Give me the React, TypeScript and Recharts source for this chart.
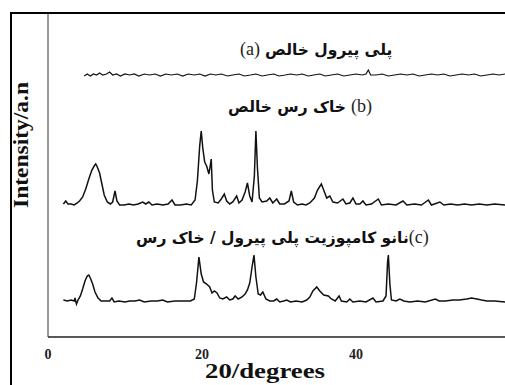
import { LineChart, Line, XAxis, YAxis, Label } from 'recharts'

// XRD patterns: [2θ in degrees, intensity above the pattern's own baseline]
const purePolypyrrole: [number, number][] = [
  [4.7, 0], [5.1, 2], [5.5, 0], [5.9, 2], [6.3, 1], [6.7, 3], [7.1, 1], [7.6, 2], [8.0, 4], [8.4, 1],
  [8.9, 2], [9.4, 0], [10.0, 2], [10.6, 1], [11.2, 2], [11.8, 0], [12.5, 2], [13.2, 1], [13.9, 2], [14.6, 0],
  [15.3, 2], [16.0, 1], [16.8, 2], [17.5, 0], [18.2, 2], [19.0, 1], [19.7, 2], [20.4, 0], [21.1, 2], [21.8, 1],
  [22.5, 2], [23.3, 0], [24.0, 1], [24.8, 2], [25.5, 0], [26.3, 1], [27.0, 2], [27.8, 0], [28.5, 1], [29.3, 2],
  [30.0, 0], [30.8, 1], [31.5, 2], [32.3, 1], [33.0, 2], [33.8, 0], [34.5, 1], [35.3, 2], [36.0, 0], [36.8, 1],
  [37.6, 2], [38.4, 0], [39.2, 1], [40.0, 2], [40.8, 1], [41.3, 2], [41.6, 6], [41.9, 1], [42.6, 1], [43.4, 2],
  [44.2, 0], [45.0, 1], [45.8, 2], [46.6, 1], [47.4, 2], [48.2, 0], [49.0, 1], [49.8, 2], [50.6, 1], [51.4, 2],
  [52.2, 0], [53.0, 1], [53.8, 2], [54.6, 1], [55.4, 2], [56.2, 0], [57.0, 1], [57.8, 2], [58.6, 1], [59.35, 2],
]

const pureClay: [number, number][] = [
  [2.0, 2], [2.3, 5], [2.6, 2], [3.0, 2], [3.4, 1], [3.8, 3], [4.1, 5], [4.5, 9], [4.9, 17], [5.3, 27],
  [5.7, 36], [6.0, 40], [6.2, 42], [6.4, 39], [6.7, 33], [7.0, 22], [7.3, 11], [7.7, 4], [8.1, 2], [8.4, 4],
  [8.7, 15], [8.95, 5], [9.3, 1], [9.9, 1], [10.5, 2], [11.1, 1], [11.7, 2], [12.3, 4], [12.7, 2], [13.1, 4],
  [13.5, 1], [14.2, 2], [14.9, 1], [15.6, 2], [16.1, 6], [16.5, 1], [17.2, 1], [18.0, 2], [18.6, 1], [19.1, 6],
  [19.4, 25], [19.7, 60], [19.9, 75], [20.1, 58], [20.35, 44], [20.6, 40], [20.9, 32], [21.1, 42], [21.2, 47], [21.35, 16],
  [21.6, 4], [22.1, 3], [22.5, 7], [22.9, 12], [23.2, 5], [23.6, 2], [24.0, 4], [24.5, 10], [24.8, 3], [25.2, 6],
  [25.6, 14], [25.9, 23], [26.2, 10], [26.5, 4], [26.8, 30], [27.0, 75], [27.2, 38], [27.45, 8], [27.8, 4], [28.4, 5],
  [28.8, 8], [29.2, 3], [29.7, 7], [30.1, 2], [30.7, 2], [31.3, 5], [31.6, 15], [31.9, 4], [32.4, 1], [33.0, 2],
  [33.5, 1], [34.0, 3], [34.6, 8], [35.0, 16], [35.5, 22], [35.9, 14], [36.2, 8], [36.6, 10], [37.0, 4], [37.6, 3],
  [38.3, 7], [38.7, 2], [39.2, 3], [39.6, 8], [40.0, 2], [40.5, 2], [40.9, 5], [41.3, 1], [42.0, 2], [42.9, 7],
  [43.3, 1], [44.2, 2], [45.2, 1], [46.1, 5], [46.6, 1], [47.6, 2], [48.5, 1], [49.4, 6], [49.8, 1], [50.9, 4],
  [51.4, 1], [52.3, 2], [53.2, 1], [54.1, 2], [55.0, 1], [56.0, 2], [57.0, 1], [58.0, 2], [59.35, 1],
]

const nanocomposite: [number, number][] = [
  [2.0, 2], [2.5, 1], [3.0, 2], [3.4, 1], [3.5, 4], [3.7, -2], [3.9, 2], [4.2, 6], [4.5, 13], [4.8, 21],
  [5.1, 26], [5.3, 27], [5.5, 24], [5.8, 18], [6.1, 10], [6.5, 4], [6.9, 1], [7.4, 1], [8.0, 1], [8.3, 4],
  [8.6, 0], [9.2, 1], [10.0, 0], [10.6, 1], [11.3, 1], [11.9, 2], [12.5, 0], [13.4, 1], [14.2, 1], [14.9, 2],
  [15.5, 0], [16.5, 1], [17.5, 1], [18.5, 1], [19.0, 3], [19.3, 20], [19.6, 45], [19.9, 28], [20.2, 20], [20.6, 18],
  [21.0, 15], [21.3, 9], [21.6, 11], [21.95, 9], [22.3, 4], [22.7, 3], [23.2, 5], [23.6, 2], [24.0, 3], [24.3, 6],
  [24.7, 3], [25.2, 5], [25.6, 8], [25.9, 12], [26.2, 19], [26.5, 35], [26.75, 47], [27.0, 25], [27.3, 8], [27.6, 7],
  [27.9, 10], [28.3, 3], [28.8, 1], [29.3, 1], [29.7, 3], [30.1, 0], [30.6, 1], [31.0, 2], [31.5, 0], [32.2, 1],
  [33.0, 0], [33.6, 2], [34.0, 5], [34.4, 11], [34.9, 15], [35.3, 11], [35.8, 7], [36.4, 6], [36.8, 3], [37.3, 1],
  [37.8, 6], [38.1, 1], [38.8, 0], [39.2, 3], [39.6, 0], [40.5, 1], [41.3, 0], [42.2, 4], [42.6, 0], [43.5, 1],
  [43.9, 6], [44.1, 40], [44.2, 47], [44.4, 18], [44.6, 2], [45.2, 1], [45.7, 3], [46.2, 1], [47.0, 0], [48.0, 1],
  [49.0, 0], [50.3, 3], [50.8, 1], [51.6, 1], [52.6, 2], [53.4, 2], [54.4, 3], [55.0, 4], [55.7, 3], [56.3, 2],
  [57.0, 1], [58.0, 1], [59.35, 0],
]

// vertical stacking of the patterns (same units as intensity)
const stackOffsets = { a: 261, b: 131, c: 35 }

const xTicks = [0, 20, 40]

const persian = { fontFamily: '"DejaVu Sans", sans-serif', fontWeight: 700, fontSize: 15.5, color: '#111' }
const latin = { fontFamily: '"Liberation Serif", serif', fontSize: 18, color: '#222' }

const toPoints = (pattern: [number, number][], offset: number) =>
  pattern.map(([t, i]) => ({ t, v: offset + i }))

export default function App() {
  const seriesA = toPoints(purePolypyrrole, stackOffsets.a)
  const seriesB = toPoints(pureClay, stackOffsets.b)
  const seriesC = toPoints(nanocomposite, stackOffsets.c)

  return (
    <div style={{ position: 'absolute', left: 0, top: 0, width: 505, height: 385, background: '#fff', overflow: 'hidden' }}>
      <div style={{ position: 'absolute', left: 10, top: 12, right: 0, bottom: 0, borderLeft: '2.5px solid #000', borderTop: '2px solid #000' }} />
      <LineChart
        width={505}
        height={385}
        margin={{ top: 13, right: 0, bottom: 0, left: 47 }}
        style={{ position: 'absolute', left: 0, top: 0 }}
      >
        <XAxis
          type="number"
          dataKey="t"
          domain={[0, 59.35]}
          ticks={xTicks}
          allowDataOverflow
          height={48}
          tickLine={false}
          tickMargin={6}
          axisLine={{ stroke: '#222', strokeWidth: 1.3 }}
          tick={{ fill: '#222', fontSize: 14, fontWeight: 'bold', fontFamily: 'Liberation Serif' }}
        >
          <Label
            content={() => (
              <text x={265} y={378} textAnchor="middle" textLength={120} lengthAdjust="spacingAndGlyphs"
                fontFamily="Liberation Serif" fontWeight="bold" fontSize={21} fill="#111">
                20/degrees
              </text>
            )}
          />
        </XAxis>
        <YAxis type="number" domain={[0, 324]} width={1} tick={false} tickLine={false} axisLine={{ stroke: '#333', strokeWidth: 1 }}>
          <Label
            content={() => (
              <text x={28} y={145} transform="rotate(-90 28 145)" textAnchor="middle" textLength={126}
                lengthAdjust="spacingAndGlyphs" fontFamily="Liberation Serif" fontWeight="bold" fontSize={21} fill="#111">
                Intensity/a.n
              </text>
            )}
          />
        </YAxis>
        <Line data={seriesA} dataKey="v" type="linear" stroke="#111" strokeWidth={1.2} dot={false} isAnimationActive={false} />
        <Line data={seriesB} dataKey="v" type="linear" stroke="#111" strokeWidth={1.5} dot={false} isAnimationActive={false} />
        <Line data={seriesC} dataKey="v" type="linear" stroke="#111" strokeWidth={1.5} dot={false} isAnimationActive={false} />
      </LineChart>

      <div style={{ position: 'absolute', left: 240, top: 39, display: 'flex', alignItems: 'baseline', gap: 5, lineHeight: '20px', whiteSpace: 'nowrap' }}>
        <span style={latin}>(a)</span>
        <span dir="rtl" style={persian}>پلی پیرول خالص</span>
      </div>
      <div style={{ position: 'absolute', left: 228, top: 96, display: 'flex', alignItems: 'baseline', gap: 5, lineHeight: '20px', whiteSpace: 'nowrap' }}>
        <span dir="rtl" style={persian}>خاک رس خالص</span>
        <span style={latin}>(b)</span>
      </div>
      <div style={{ position: 'absolute', left: 136, top: 227, display: 'flex', alignItems: 'baseline', lineHeight: '20px', whiteSpace: 'nowrap' }}>
        <span dir="rtl" style={persian}>نانو کامپوزیت پلی پیرول / خاک رس</span>
        <span style={latin}>(c)</span>
      </div>
    </div>
  )
}
